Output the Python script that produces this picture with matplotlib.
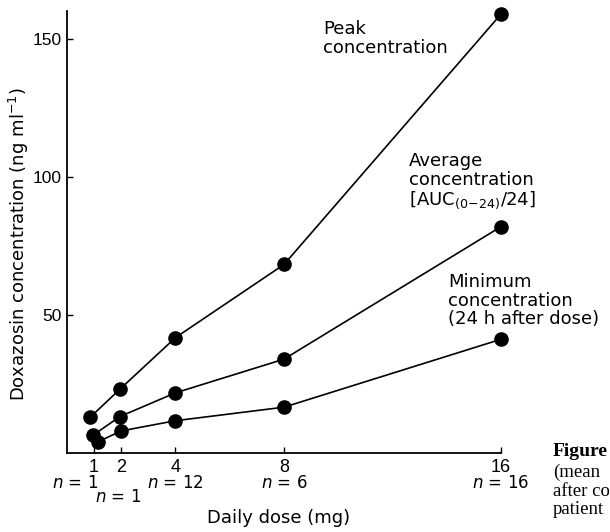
import matplotlib
matplotlib.use("Agg")
import matplotlib.pyplot as plt
from matplotlib.transforms import blended_transform_factory

# Data
dose_ticks = [1, 2, 4, 8, 16]
y_ticks = [50, 100, 150]

peak_x = [0.85, 1.95, 4, 8, 16]
peak_y = [12.9, 23.1, 41.8, 68.3, 159.0]

avg_x = [0.97, 1.95, 4, 8, 16]
avg_y = [6.5, 13.2, 21.8, 34.0, 82.0]

min_x = [1.15, 2.0, 4, 8, 16]
min_y = [4.1, 8.0, 11.7, 16.6, 41.2]

n_labels = ["n = 1", "n = 1", "n = 12", "n = 6", "n = 16"]

fig = plt.figure(figsize=(6.10, 5.32), dpi=100)
ax = fig.add_axes([0.1098, 0.1485, 0.8213 - 0.1098, 0.9786 - 0.1485])

for xs, ys in [(peak_x, peak_y), (avg_x, avg_y), (min_x, min_y)]:
    ax.plot(xs, ys, color="black", lw=1.2, marker="o", ms=9.5,
            markerfacecolor="black", markeredgecolor="black", zorder=3,
            clip_on=False)

ax.set_xlim(0, 16)
ax.set_ylim(0, 160)
ax.spines["top"].set_visible(False)
ax.spines["right"].set_visible(False)
ax.spines["left"].set_linewidth(1.3)
ax.spines["bottom"].set_linewidth(1.3)

ax.set_xticks(dose_ticks)
ax.set_xticklabels([str(d) for d in dose_ticks], fontfamily="Liberation Sans", fontsize=13)
ax.set_yticks(y_ticks)
ax.set_yticklabels([str(v) for v in y_ticks], fontfamily="Liberation Sans", fontsize=12.5)
ax.tick_params(axis="both", direction="in", length=4, width=1, pad=4)

# n labels below the tick labels
trans = blended_transform_factory(ax.transData, fig.transFigure)
n_pos = [(0.3, 483), (1.9, 497), (4.0, 483), (8, 483), (16, 483)]
for (xv, ypx), lab in zip(n_pos, n_labels):
    t = lab.replace("n", "$\\it{n}$", 1)
    ax.text(xv, 1 - ypx / 532, t, transform=trans, ha="center", va="center",
            fontsize=12, fontfamily="DejaVu Sans")

fig.text(279 / 610, 1 - 518 / 532, "Daily dose (mg)", ha="center", va="center",
         fontsize=13, fontfamily="DejaVu Sans")
fig.text(19 / 610, 1 - 244 / 532, "Doxazosin concentration (ng ml$^{-1}$)",
         rotation=90, ha="center", va="center", fontsize=13, fontfamily="DejaVu Sans")

# Series annotations
fig.text(323 / 610, 1 - 20 / 532, "Peak\nconcentration", ha="left", va="top",
         fontsize=13, fontfamily="DejaVu Sans", linespacing=1.05)
fig.text(409 / 610, 1 - 152 / 532, "Average\nconcentration\n[AUC$_{(0\\!-\\!24)}$/24]",
         ha="left", va="top", fontsize=13, fontfamily="DejaVu Sans", linespacing=1.05)
fig.text(448 / 610, 1 - 273 / 532, "Minimum\nconcentration\n(24 h after dose)",
         ha="left", va="top", fontsize=13, fontfamily="DejaVu Sans", linespacing=1.05)

# Clipped caption at right edge
fig.text(553 / 610, 1 - 452 / 532, "Figure", ha="left", va="center",
         fontsize=14, fontweight="bold", fontfamily="Liberation Serif")
for ypx, s in [(472, "(mean"), (491, "after co"), (510, "patient")]:
    fig.text(553 / 610, 1 - ypx / 532, s, ha="left", va="center",
             fontsize=13.5, fontfamily="Liberation Serif")

fig.savefig("out.png", dpi=100)
